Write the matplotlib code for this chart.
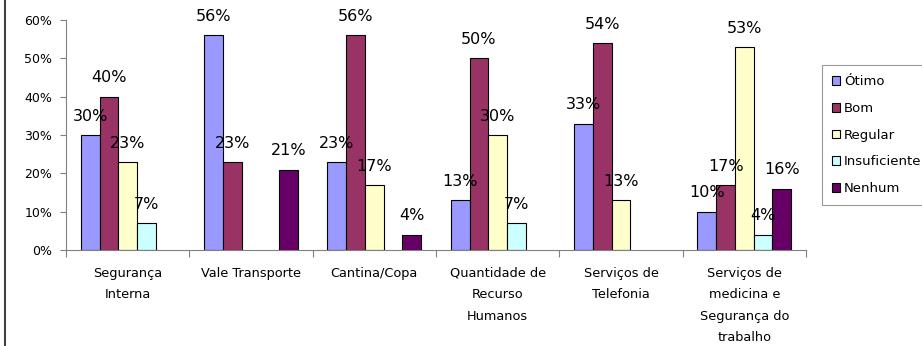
import numpy as np
import matplotlib.pyplot as plt
import matplotlib as mpl
from matplotlib.lines import Line2D

mpl.rcParams['font.family'] = ['DejaVu Sans']

categorias = ['Segurança\nInterna', 'Vale Transporte', 'Cantina/Copa',
              'Quantidade de\nRecurso\nHumanos', 'Serviços de\nTelefonia',
              'Serviços de\nmedicina e\nSegurança do\ntrabalho']
series = ['Ótimo', 'Bom', 'Regular', 'Insuficiente', 'Nenhum']
cores = ['#9999FF', '#993366', '#FFFFCC', '#CCFFFF', '#660066']

# percentuais por categoria (None = sem resposta, barra não desenhada)
otimo = [30, 56, 23, 13, 33, 10]
bom = [40, 23, 56, 50, 54, 17]
regular = [23, None, 17, 30, 13, 53]
insuficiente = [7, None, None, 7, None, 4]
nenhum = [None, 21, 4, None, None, 16]
valores = [otimo, bom, regular, insuficiente, nenhum]

fig = plt.figure(figsize=(9.22, 3.46), dpi=100)
ax = fig.add_axes([66/922, 1 - 250/346, 740/922, 230/346])

x = np.arange(len(categorias))
w = 0.152
for i, (nome, vals, cor) in enumerate(zip(series, valores, cores)):
    xs = x + (i - 2) * w
    ok = [v is not None for v in vals]
    hs = [v / 100 for v in vals if v is not None]
    ax.bar(xs[ok], hs, width=w, color=cor, edgecolor='black',
           linewidth=0.8, label=nome)
    for xi, v in zip(xs[ok], hs):
        ax.text(xi, v + 0.049, '%d%%' % round(v * 100), ha='center',
                va='center', fontsize=11.5)

ax.set_xlim(-0.5, len(categorias) - 0.5)
ax.set_ylim(0, 0.6)
ax.set_yticks(np.arange(0, 0.61, 0.1))
ax.set_yticklabels(['%d%%' % t for t in range(0, 61, 10)], fontsize=9)
ax.set_xticks(np.arange(-0.5, len(categorias), 1))
ax.set_xticklabels([])
ax.set_xticks(x, minor=True)
ax.set_xticklabels(categorias, minor=True, fontsize=9.3, linespacing=1.85)
ax.tick_params(axis='x', which='minor', length=0, pad=12)
ax.tick_params(axis='x', which='major', length=5, direction='out', color='#808080')
ax.tick_params(axis='y', length=4, direction='out', color='#808080', pad=6)
for s in ['top', 'right']:
    ax.spines[s].set_visible(False)
ax.spines['left'].set_color('#808080')
ax.spines['bottom'].set_color('#808080')

leg = fig.legend(loc='upper left', bbox_to_anchor=(822/922, 1 - 65/346),
                 fontsize=9.5, frameon=True, fancybox=False, handlelength=0.65,
                 handleheight=0.65, handletextpad=0.25, labelspacing=1.05,
                 borderpad=0.75, borderaxespad=0)
leg.get_frame().set_edgecolor('#808080')
leg.get_frame().set_linewidth(0.8)

fig.add_artist(Line2D([5/922, 5/922], [0, 1], color='#404040', linewidth=1.5))

fig.savefig('out.png', dpi=100)
